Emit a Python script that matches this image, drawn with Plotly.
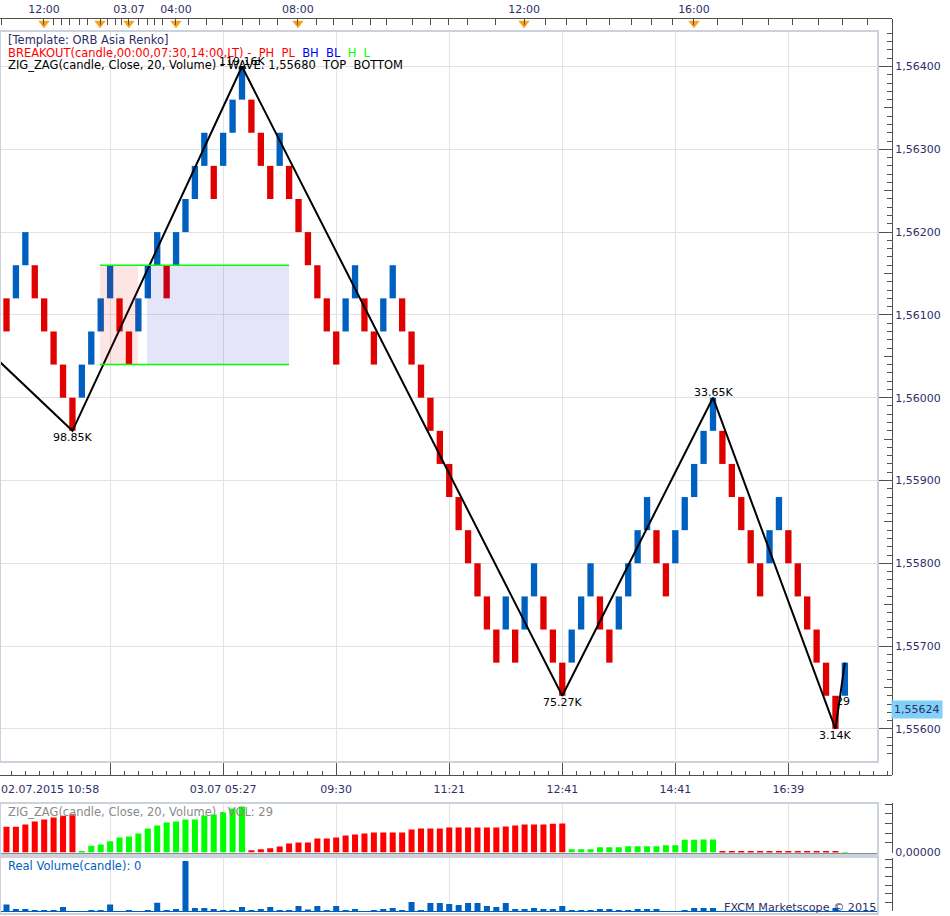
import plotly.graph_objects as go

# ---------------- dados ----------------
RENKO_SIZE = 0.0004

# base (preço mínimo) de cada tijolo Renko, na ordem
brick_low = [
    1.5608, 1.5612, 1.5616, 1.5612, 1.5608, 1.5604, 1.5600, 1.5596, 1.5600, 1.5604,
    1.5608, 1.5612, 1.5608, 1.5604, 1.5608, 1.5612, 1.5616, 1.5612, 1.5616, 1.5620,
    1.5624, 1.5628, 1.5624, 1.5628, 1.5632, 1.5636, 1.5632, 1.5628, 1.5624, 1.5628,
    1.5624, 1.5620, 1.5616, 1.5612, 1.5608, 1.5604, 1.5608, 1.5612, 1.5608, 1.5604,
    1.5608, 1.5612, 1.5608, 1.5604, 1.5600, 1.5596, 1.5592, 1.5588, 1.5584, 1.5580,
    1.5576, 1.5572, 1.5568, 1.5572, 1.5568, 1.5572, 1.5576, 1.5572, 1.5568, 1.5564,
    1.5568, 1.5572, 1.5576, 1.5572, 1.5568, 1.5572, 1.5576, 1.5580, 1.5584, 1.5580,
    1.5576, 1.5580, 1.5584, 1.5588, 1.5592, 1.5596, 1.5592, 1.5588, 1.5584, 1.5580,
    1.5576, 1.5580, 1.5584, 1.5580, 1.5576, 1.5572, 1.5568, 1.5564, 1.5560, 1.5564,
]
# U = tijolo de alta (azul), D = tijolo de baixa (vermelho)
brick_dir = ("DUUDDDDDUU" "UUDDUUUDUU" "UUDUUUDDDU" "DDDDDDUUDD" "UUDDDDDDDD"
             "DDDUDUUDDD" "UUUDDUUUUD" "DUUUUUDDDD" "DUUDDDDDDU")

# pivôs do ZigZag (índice do tijolo, preço) e rótulos de volume
zz_idx = [-0.69, 7, 25, 59, 75, 88, 89]
zz_price = [1.56043, 1.5596, 1.5640, 1.5564, 1.5600, 1.5560, 1.5568]
zz_text = ["", "98.85K", "119.16K", "75.27K", "33.65K", "3.14K", "29"]
zz_label_y = [None, 1.5596, 1.5640, 1.5564, 1.5600, 1.5560, 1.5564]
zz_shift = [0, -7, 5.5, -6.5, 5, -6.5, -6]

# volume acumulado do ZigZag (em milhares), índices -1 .. 89
vol_idx = list(range(-1, 90))
zz_vol = [
    57, 67, 67, 72.5, 80, 85.5, 90.5, 95, 98.85,
    2.5, 17.4, 20.7, 29.3, 38.9, 41.4, 49.2, 62.2, 70, 77.7, 80.3, 85.5, 85.5,
    95.8, 98.4, 103.6, 114, 119.16,
    6, 8.5, 11.1, 15.5, 23.3, 25.9, 25.9, 36.3, 36.3, 38.9,
    44, 46.6, 49.2, 51.8, 51.8, 51.8, 51.8, 59.6, 62.2, 62.2, 62.2,
    64.8, 64.8, 64.8, 64.8, 64.8, 64.8, 67.3, 70, 72.5, 72.5, 72.5, 74.6, 75.27,
    8.5, 8.5, 8.5, 13.7, 13.7, 13.7, 16.3, 16.3, 16.3, 16.3, 18.9, 18.9,
    33.2, 33.3, 33.5, 33.65,
    1.5, 1.5, 2.6, 2.7, 2.7, 2.8, 2.8, 2.9, 2.9, 3.0, 3.0, 3.1, 3.14,
    0.029,
]
zz_leg = "D" * 9 + "U" * 18 + "D" * 34 + "U" * 16 + "D" * 13 + "U"

# volume real por tijolo, índices -1 .. 89
real_vol = [
    66, 77, 27, 27, 15, 15, 15, 50, 0, 0,
    15, 15, 77, 0, 15, 0, 15, 100, 15, 27,
    580, 38, 38, 27, 15, 15, 50, 15, 27, 50,
    15, 15, 61, 21, 61, 15, 61, 15, 27, 0,
    15, 27, 38, 15, 107, 15, 96, 96, 84, 73,
    96, 96, 61, 50, 96, 27, 27, 38, 27, 27,
    61, 15, 15, 15, 27, 27, 15, 15, 27, 27,
    27, 0, 0, 15, 38, 38, 38, 0, 0, 0,
    0, 0, 0, 0, 0, 0, 0, 0, 0, 38, 0,
]

# eixo de tempo inferior
bottom_tick_idx = [11, 23, 35, 47, 59, 71, 83]
bottom_tick_text = ["", "03.07 05:27", "09:30", "11:21", "12:41", "14:41", "16:39"]
first_time_label = "02.07.2015 10:58"

# eixo de tempo superior
top_tick_idx = [-0.51, 3.98, 4.94, 5.89, 6.74, 7.70, 8.55, 9.93, 10.67, 11.52,
                12.26, 13.0, 13.96, 14.92, 15.66, 16.51, 17.99, 19.37, 21.28, 22.98,
                25.0, 26.91, 28.82, 30.94, 32.96, 34.66, 36.78, 38.59, 40.39, 43.05,
                44.96, 46.87, 48.89, 51.86, 54.94, 57.27, 59.40, 61.62, 63.96, 66.30,
                68.42, 70.65, 72.98, 75.53, 78.18, 80.84, 83.39, 86.15, 88.7, 91.35]
top_labels = {3.98: "12:00", 13.0: "03.07", 17.99: "04:00", 30.94: "08:00",
              54.94: "12:00", 72.98: "16:00"}
session_idx = [3.98, 9.93, 13.0, 17.99, 30.94, 54.94, 72.98]

# faixa do BREAKOUT (sessão asiática)
range_low, range_high = 1.5604, 1.5616
asia_span = [9.93, 13.96]
break_span = [14.92, 30.0]

last_price = 1.55624

# ---------------- estilo ----------------
W, H = 950, 916
UP = "#0060c0"
DN = "#e00000"
NAVY = "#2e2e6a"
AX = "#505050"
GRID = "#e3e3e3"
FRAME = "#cbd2db"
FONT = "DejaVu Sans"

X0 = -0.69
STEP = 9.42  # px por tijolo
X1_MAIN = X0 + 878 / STEP
X1_STRIP = X0 + 892 / STEP
Y_RANGE = [1.5556, 1.564429]


def px(x):
    return x / W


def py(y):
    return 1 - y / H


fig = go.Figure()

# tijolos Renko
fig.add_trace(go.Bar(
    x=list(range(len(brick_low))), y=[RENKO_SIZE] * len(brick_low), base=brick_low,
    width=0.67, marker=dict(color=[UP if d == "U" else DN for d in brick_dir], line=dict(width=0)),
    xaxis="x", yaxis="y", hoverinfo="skip"))

# linha do ZigZag
fig.add_trace(go.Scatter(x=zz_idx, y=zz_price, mode="lines",
                         line=dict(color="black", width=2), xaxis="x", yaxis="y", hoverinfo="skip"))

# eixo auxiliar só para os ticks de meio nível
fig.add_trace(go.Scatter(x=[0], y=[1.56], mode="markers", marker=dict(opacity=0),
                         xaxis="x", yaxis="y6", hoverinfo="skip"))

# marcadores de sessão (triângulos laranja)
fig.add_trace(go.Scatter(x=session_idx, y=[0.62] * len(session_idx), mode="markers",
                         marker=dict(symbol="triangle-down", size=10, color="#f9a31b", line=dict(width=0)),
                         xaxis="x2", yaxis="y2", cliponaxis=False, hoverinfo="skip"))
fig.add_trace(go.Scatter(x=[0], y=[0.5], mode="markers", marker=dict(opacity=0),
                         xaxis="x3", yaxis="y3", hoverinfo="skip"))

# volume do ZigZag
fig.add_trace(go.Bar(x=vol_idx, y=zz_vol, width=0.64,
                     marker=dict(color=["#00ff00" if d == "U" else "#ff0000" for d in zz_leg], line=dict(width=0)),
                     xaxis="x4", yaxis="y4", hoverinfo="skip"))

# volume real
fig.add_trace(go.Bar(x=vol_idx, y=real_vol, width=0.64, marker=dict(color=UP, line=dict(width=0)),
                     xaxis="x5", yaxis="y5", hoverinfo="skip"))

# o template padrão liga automargin, que encolhia os painéis; aqui tudo é posicionado à mão
right_axis = dict(anchor="free", position=px(892), side="right", showline=True, linecolor=AX,
                  linewidth=1, tickcolor=AX, zeroline=False, showgrid=False, automargin=False)
time_axis = dict(zeroline=False, automargin=False)

fig.update_layout(
    template="none",
    width=W, height=H, autosize=False, margin=dict(l=0, r=0, t=0, b=0, pad=0),
    paper_bgcolor="white", plot_bgcolor="white", showlegend=False, separators=", ",
    font=dict(family=FONT, size=11, color=NAVY),
    xaxis=dict(time_axis, domain=[0, px(878)], range=[X0, X1_MAIN], anchor="y", tickmode="array",
               tickvals=bottom_tick_idx, showticklabels=False, ticks="", showgrid=True,
               gridcolor=GRID, showline=False),
    yaxis=dict(right_axis, domain=[py(762), py(31)], range=Y_RANGE, tickmode="linear",
               tick0=1.556, dtick=0.001, tickformat=".5f", ticks="inside", ticklen=14,
               showgrid=True, gridcolor=GRID,
               minor=dict(tickmode="linear", tick0=1.556, dtick=0.0001, ticks="inside",
                          ticklen=5, tickcolor=AX, showgrid=False)),
    yaxis6=dict(right_axis, overlaying="y", range=Y_RANGE, tickmode="linear", tick0=1.5555,
                dtick=0.001, ticks="inside", ticklen=8, showticklabels=False, showline=False),
    xaxis2=dict(time_axis, domain=[0, px(892)], range=[X0, X1_STRIP], anchor="y2", side="top",
                tickmode="array", tickvals=top_tick_idx,
                ticktext=[top_labels.get(v, "") for v in top_tick_idx],
                ticks="inside", ticklen=6, tickcolor=AX, showline=True, linecolor=AX,
                showgrid=False),
    yaxis2=dict(right_axis, domain=[py(31), py(18.7)], range=[0, 1], ticks="", showticklabels=False),
    xaxis3=dict(time_axis, domain=[0, px(892)], range=[X0, X1_STRIP], anchor="y3", side="bottom",
                tickmode="array", tickvals=bottom_tick_idx, ticktext=bottom_tick_text,
                ticks="inside", ticklen=12, tickcolor=AX, showline=True, linecolor=AX,
                showgrid=False, ticklabelstandoff=4,
                minor=dict(tickmode="linear", tick0=11, dtick=1.5, ticks="inside", ticklen=4, tickcolor=AX)),
    yaxis3=dict(right_axis, domain=[py(775), py(762)], range=[0, 1], ticks="", showticklabels=False),
    xaxis4=dict(time_axis, domain=[0, px(878)], range=[X0, X1_MAIN], anchor="y4", tickmode="array",
                tickvals=bottom_tick_idx, showticklabels=False, ticks="", showgrid=True,
                gridcolor=GRID, showline=True, linecolor="#8c8c8c"),
    yaxis4=dict(right_axis, domain=[py(852.5), py(803)], range=[0, 128.2], tickmode="array",
                tickvals=[0], ticktext=["0,00000"], ticks="inside", ticklen=14,
                minor=dict(tickmode="linear", tick0=0, dtick=25, ticks="inside", ticklen=7, tickcolor=AX)),
    xaxis5=dict(time_axis, domain=[0, px(878)], range=[X0, X1_MAIN], anchor="y5", tickmode="array",
                tickvals=bottom_tick_idx, showticklabels=False, ticks="", showgrid=True,
                gridcolor=GRID, showline=True, linecolor=UP),
    yaxis5=dict(right_axis, domain=[py(911.3), py(858)], range=[0, 614.5], tickmode="array",
                tickvals=[0], ticktext=["0"], ticks="inside", ticklen=14,
                minor=dict(tickmode="linear", tick0=0, dtick=100, ticks="inside", ticklen=7, tickcolor=AX)),
)

# caixas do BREAKOUT e linhas da faixa
fig.add_shape(type="rect", xref="x", yref="y", x0=asia_span[0], x1=asia_span[1],
              y0=range_low, y1=range_high, fillcolor="rgba(240,0,0,0.1)", line=dict(width=0), layer="above")
fig.add_shape(type="rect", xref="x", yref="y", x0=break_span[0], x1=break_span[1],
              y0=range_low, y1=range_high, fillcolor="rgba(0,0,200,0.1)", line=dict(width=0), layer="above")
for lvl in (range_low, range_high):
    fig.add_shape(type="line", xref="x", yref="y", x0=asia_span[0], x1=break_span[1], y0=lvl, y1=lvl,
                  line=dict(color="#00ff00", width=1.5), layer="above")

# molduras dos painéis
for top, bottom in ((31, 762), (803, 855), (857, 914)):
    fig.add_shape(type="rect", xref="paper", yref="paper", x0=0, x1=px(878), y0=py(bottom), y1=py(top),
                  line=dict(color=FRAME, width=2), fillcolor="rgba(0,0,0,0)", layer="above")

# rótulos do ZigZag
for x, y, t, s in zip(zz_idx, zz_label_y, zz_text, zz_shift):
    if not t:
        continue
    fig.add_annotation(x=x, y=y, xref="x", yref="y", text=t, showarrow=False, yanchor="middle",
                       yshift=s, xshift=-2 if t == "29" else 0, font=dict(color="black", size=11))


def label(text, x, y, color, anchor="left", size=11.5):
    fig.add_annotation(x=px(x), y=py(y), xref="paper", yref="paper", text=text, showarrow=False,
                       xanchor=anchor, yanchor="middle", borderpad=0, font=dict(color=color, size=size))


label("[Template: ORB Asia Renko]", 7, 40, NAVY)
label('<span style="color:#ff0000">BREAKOUT(candle,00:00,07:30,14:00,LT) -  PH  PL</span>'
      '  <span style="color:#0000ff">BH  BL</span>  <span style="color:#00ff00">H  L</span>',
      7, 52.5, "#ff0000")
label("ZIG_ZAG(candle, Close, 20, Volume) - WAVE: 1,55680  TOP  BOTTOM", 7, 65, "black")
label(first_time_label, 0, 789, NAVY, size=11)
label("ZIG_ZAG(candle, Close, 20, Volume) - VOL: 29", 7, 811.5, "#8a8a8a")
label("Real Volume(candle): 0", 7, 866, UP)
label("FXCM Marketscope © 2015", 877, 907.5, NAVY, anchor="right", size=11.2)

# preço atual
fig.add_annotation(x=px(891), y=last_price, xref="paper", yref="y", text="1,55624", showarrow=False,
                   xanchor="left", yanchor="middle", bgcolor="#80d0f7", borderpad=2,
                   font=dict(color=NAVY, size=11))

# sem a margem padrão do <body>
page_fix = """
document.documentElement.style.margin = '0';
document.body.style.margin = '0';
"""
fig.write_html("out.html", config={"displayModeBar": False, "responsive": False},
               post_script=page_fix)
